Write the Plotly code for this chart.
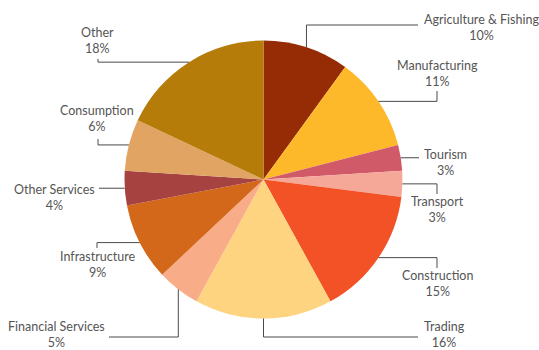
import math
import plotly.graph_objects as go

# Sector shares (%)
sectors = ["Agriculture & Fishing", "Manufacturing", "Tourism", "Transport",
           "Construction", "Trading", "Financial Services", "Infrastructure",
           "Other Services", "Consumption", "Other"]
shares = [10, 11, 3, 3, 15, 16, 5, 9, 4, 6, 18]
colors = ["#952C05", "#FDB92A", "#D05A68", "#F6A898", "#F25225", "#FED480",
          "#F8AC88", "#D3671A", "#A64240", "#E2A462", "#B57C0A"]

W, H = 539, 350
CX, CY, R = 263.5, 179.5, 139

# Leader routing per label: (style, elbow/end x, end y, text x, text y)
#   "vh": vertical from slice edge, then horizontal
#   "hv": horizontal from slice edge, then vertical
#   "h" : horizontal only
leaders = [
    ("vh", 418, 25, 481, 27),
    ("hv", 437, 91, 437, 73),
    ("h", 419, None, 445, 162),
    ("hv", 437, 194, 437, 209),
    ("hv", 437, 268, 437, 283),
    ("vh", 418, 337, 444, 334),
    ("vh", 109, 337, 56, 334),
    ("hv", 97, 248, 97, 264),
    ("h", 99, None, 54, 197),
    ("hv", 98, 139, 97, 118),
    ("hv", 98, 59, 97, 40),
]


def px(x):
    return x / W


def py(y):
    return 1 - y / H


fig = go.Figure(go.Pie(
    labels=sectors, values=shares, sort=False, direction="clockwise",
    rotation=0, textinfo="none", hoverinfo="label+percent",
    marker=dict(colors=colors, line=dict(width=0)),
    domain=dict(x=[px(CX - R), px(CX + R)], y=[py(CY + R), py(CY - R)]),
    showlegend=False,
))

total = sum(shares)
cum = 0
shapes, annotations = [], []
for name, val, (style, ex, ey, tx, ty) in zip(sectors, shares, leaders):
    mid = (cum + val / 2) / total * 2 * math.pi
    cum += val
    sx = CX + R * math.sin(mid)
    sy = CY - R * math.cos(mid)
    if style == "vh":
        pts = [(sx, sy), (sx, ey), (ex, ey)]
    elif style == "hv":
        pts = [(sx, sy), (ex, sy), (ex, ey)]
    else:
        pts = [(sx, sy), (ex, sy)]
    path = "M " + " L ".join(f"{px(a):.5f},{py(b):.5f}" for a, b in pts)
    shapes.append(dict(type="path", path=path, xref="paper", yref="paper",
                       line=dict(color="#4a4a4a", width=1)))
    annotations.append(dict(
        x=px(tx), y=py(ty), xref="paper", yref="paper",
        text=f"{name}<br>{val}%", showarrow=False, align="center",
        xanchor="center", yanchor="middle",
        font=dict(family="Lato, sans-serif", size=12.5, color="#555555"),
    ))

fig.update_layout(
    width=W, height=H, margin=dict(l=0, r=0, t=0, b=0),
    paper_bgcolor="white", plot_bgcolor="white",
    shapes=shapes, annotations=annotations,
)

fig.write_html("out.html")
